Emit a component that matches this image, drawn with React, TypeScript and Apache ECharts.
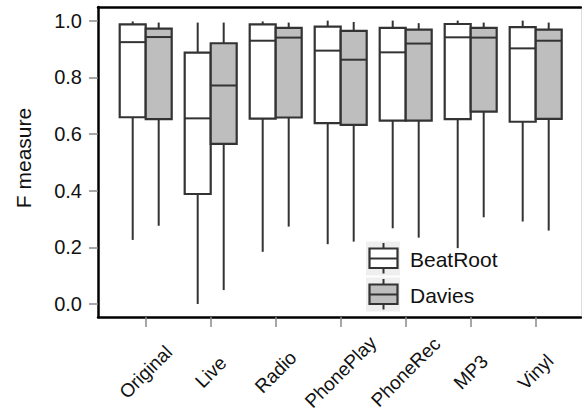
import React, { useEffect, useRef } from "react";
import * as echarts from "echarts";

const categories = ["Original", "Live", "Radio", "PhonePlay", "PhoneRec", "MP3", "Vinyl"];
// [min, Q1, median, Q3, max]
const beatRoot = [
  [0.226, 0.659, 0.924, 0.987, 0.997],
  [0.0, 0.388, 0.655, 0.887, 0.993],
  [0.184, 0.654, 0.929, 0.987, 0.997],
  [0.211, 0.638, 0.894, 0.979, 1.0],
  [0.267, 0.647, 0.888, 0.974, 1.0],
  [0.197, 0.652, 0.941, 0.988, 1.0],
  [0.291, 0.643, 0.902, 0.977, 1.0],
];
const davies = [
  [0.276, 0.652, 0.942, 0.972, 0.993],
  [0.049, 0.565, 0.771, 0.92, 0.993],
  [0.273, 0.658, 0.94, 0.974, 0.993],
  [0.22, 0.632, 0.862, 0.964, 0.995],
  [0.234, 0.647, 0.919, 0.968, 0.991],
  [0.306, 0.679, 0.94, 0.974, 0.993],
  [0.259, 0.653, 0.929, 0.968, 0.993],
];
const yTicks = [0, 0.2, 0.4, 0.6, 0.8, 1.0];
const seriesNames = ["BeatRoot", "Davies"];
const seriesFills = ["#ffffff", "#bebebe"];

const FONT = "'Liberation Sans', Arial, Helvetica, sans-serif";
const STROKE = "#333333";
const Y_MIN = -0.046;
const Y_MAX = 1.048;

function makeRenderItem(offset: number, fill: string) {
  return (params: any, api: any) => {
    const c = api.value(0);
    const p = (v: number) => api.coord([c, v]);
    const [cx, yMin] = p(api.value(1));
    const yQ1 = p(api.value(2))[1];
    const yMed = p(api.value(3))[1];
    const yQ3 = p(api.value(4))[1];
    const yMax = p(api.value(5))[1];
    const x = cx + offset;
    const half = 13;
    const ls = { stroke: STROKE, lineWidth: 2 };
    return {
      type: "group",
      children: [
        { type: "line", shape: { x1: x, y1: yMax, x2: x, y2: yQ3 }, style: ls },
        { type: "line", shape: { x1: x, y1: yQ1, x2: x, y2: yMin }, style: ls },
        {
          type: "rect",
          shape: { x: x - half, y: yQ3, width: half * 2, height: yQ1 - yQ3 },
          style: { fill, stroke: STROKE, lineWidth: 2.2 },
        },
        { type: "line", shape: { x1: x - half, y1: yMed, x2: x + half, y2: yMed }, style: ls },
      ],
    };
  };
}

function legendItem(y: number, fill: string, label: string) {
  const cx = 383.5;
  return [
    { type: "rect", shape: { x: 366, y, width: 34, height: 34 }, style: { fill: "#efefef" }, silent: true },
    { type: "line", shape: { x1: cx, y1: y + 1.5, x2: cx, y2: y + 7 }, style: { stroke: STROKE, lineWidth: 2 } },
    { type: "line", shape: { x1: cx, y1: y + 26.5, x2: cx, y2: y + 32 }, style: { stroke: STROKE, lineWidth: 2 } },
    {
      type: "rect",
      shape: { x: 369.5, y: y + 7, width: 28, height: 19.5 },
      style: { fill, stroke: STROKE, lineWidth: 2.2 },
    },
    { type: "line", shape: { x1: 369.5, y1: y + 17, x2: 397.5, y2: y + 17 }, style: { stroke: STROKE, lineWidth: 2 } },
    {
      type: "text",
      x: 410,
      y: y + 17.5,
      style: { text: label, fontSize: 21, fontFamily: FONT, fill: "#111", verticalAlign: "middle", align: "left" },
    },
  ];
}

export default function App() {
  const ref = useRef<HTMLDivElement>(null);
  useEffect(() => {
    if (!ref.current) return;
    const chart = echarts.init(ref.current, undefined, { renderer: "svg" });
    const toData = (arr: number[][]) => arr.map((d, i) => [i, ...d]);
    chart.setOption({
      animation: false,
      backgroundColor: "#ffffff",
      textStyle: { fontFamily: FONT },
      grid: [
        { left: 98, right: 1, top: 7, bottom: 97, containLabel: false, outerBoundsMode: "none" },
        { left: 113.2, right: 13.8, top: 7, bottom: 97, containLabel: false, outerBoundsMode: "none" },
      ],
      xAxis: [
        {
          type: "value", gridIndex: 0, min: 0, max: 1, position: "bottom",
          axisLine: { show: true, onZero: false, lineStyle: { color: "#000", width: 2.5 } },
          axisTick: { show: false }, axisLabel: { show: false }, splitLine: { show: false },
        },
        {
          type: "value", gridIndex: 0, min: 0, max: 1, position: "top",
          axisLine: { show: true, onZero: false, lineStyle: { color: "#000", width: 2.5 } },
          axisTick: { show: false }, axisLabel: { show: false }, splitLine: { show: false },
        },
        {
          type: "category", gridIndex: 1, data: categories, boundaryGap: true, position: "bottom",
          axisLine: { show: false, onZero: false },
          axisTick: { show: true, alignWithLabel: true, length: 10, lineStyle: { color: "#8a8a8a", width: 1.5 } },
          axisLabel: {
            interval: 0, rotate: 45, align: "center", verticalAlign: "middle", margin: 55,
            fontSize: 19, color: "#111", fontFamily: FONT,
          },
          splitLine: { show: false },
        },
      ],
      yAxis: [
        {
          type: "value", gridIndex: 0, min: Y_MIN, max: Y_MAX, position: "left",
          name: "F measure", nameLocation: "middle", nameGap: 64,
          nameTextStyle: { fontSize: 21, color: "#111", fontFamily: FONT, padding: [0, 0, 0, 8] },
          axisLine: { show: true, onZero: false, lineStyle: { color: "#000", width: 2.5 } },
          axisTick: { show: true, customValues: yTicks, length: 9, lineStyle: { color: "#8a8a8a", width: 1.5 } },
          axisLabel: {
            customValues: yTicks, margin: 16, fontSize: 20, color: "#111", fontFamily: FONT,
            formatter: (v: number) => v.toFixed(1),
          },
          splitLine: { show: false },
        },
        {
          type: "value", gridIndex: 0, min: Y_MIN, max: Y_MAX, position: "right",
          axisLine: { show: true, onZero: false, lineStyle: { color: "#dddddd", width: 1 } },
          axisTick: { show: false }, axisLabel: { show: false }, splitLine: { show: false },
        },
        {
          type: "value", gridIndex: 1, min: Y_MIN, max: Y_MAX, show: false,
          splitLine: { show: false },
        },
      ],
      series: [
        {
          type: "custom", name: seriesNames[0], xAxisIndex: 2, yAxisIndex: 2,
          renderItem: makeRenderItem(-13, seriesFills[0]),
          encode: { x: 0, y: [1, 2, 3, 4, 5] },
          data: toData(beatRoot),
        },
        {
          type: "custom", name: seriesNames[1], xAxisIndex: 2, yAxisIndex: 2,
          renderItem: makeRenderItem(13, seriesFills[1]),
          encode: { x: 0, y: [1, 2, 3, 4, 5] },
          data: toData(davies),
        },
      ],
      graphic: [
        ...legendItem(241.5, seriesFills[0], seriesNames[0]),
        ...legendItem(277.5, seriesFills[1], seriesNames[1]),
      ],
    });
    return () => chart.dispose();
  }, []);
  return <div ref={ref} style={{ width: 582, height: 414, position: "absolute", left: 0, top: 0 }} />;
}
